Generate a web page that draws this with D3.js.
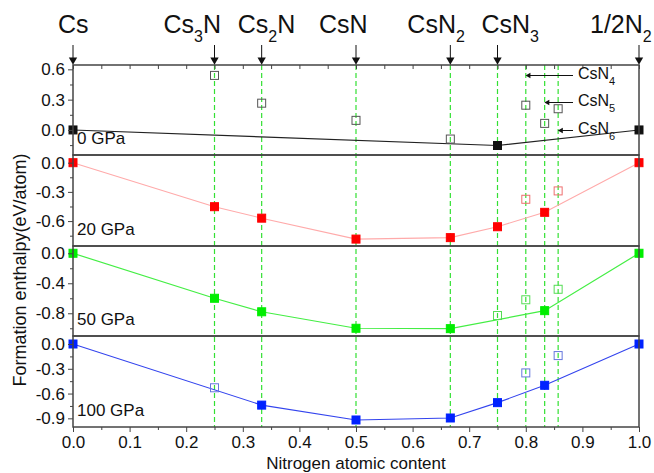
<!DOCTYPE html>
<html>
<head>
<meta charset="utf-8">
<script src="https://cdn.jsdelivr.net/npm/d3@7"></script>
<style>
  body { margin: 0; background: #fff; }
  svg { display: block; font-family: "Liberation Sans", Arial, sans-serif; }
</style>
</head>
<body>
<svg id="chart" width="654" height="473"></svg>
<script>
// ---- data -------------------------------------------------------------
// nitrogen atomic content of every composition considered
const composition = [0, 0.25, 1 / 3, 0.5, 2 / 3, 0.75, 0.8, 5 / 6, 6 / 7, 1];

// formation enthalpy (eV/atom) at each pressure, one value per composition
const enthalpy0GPa   = [0, 0.54, 0.265, 0.095, -0.09, -0.154, 0.245, 0.065, 0.21, 0];
const enthalpy20GPa  = [0, -0.452, -0.57, -0.785, -0.77, -0.658, -0.376, -0.51, -0.29, 0];
const enthalpy50GPa  = [0, -0.6, -0.78, -1.0, -1.005, -0.83, -0.62, -0.765, -0.48, 0];
const enthalpy100GPa = [0, -0.53, -0.74, -0.92, -0.896, -0.71, -0.35, -0.5, -0.14, 0];

// 1 = on the convex hull (filled marker), 0 = above it (open marker)
const onHull0GPa   = [1, 0, 0, 0, 0, 1, 0, 0, 0, 1];
const onHull20GPa  = [1, 1, 1, 1, 1, 1, 0, 1, 0, 1];
const onHull50GPa  = [1, 1, 1, 1, 1, 0, 0, 1, 0, 1];
const onHull100GPa = [1, 0, 1, 1, 1, 1, 0, 1, 0, 1];

const pressureLabels = ["0 GPa", "20 GPa", "50 GPa", "100 GPa"];

// phases marked with arrows above the plot ([text, subscript?] pieces)
const phaseX = [0, 0.25, 1 / 3, 0.5, 2 / 3, 0.75, 1];
const phaseNames = [
  [["Cs", 0]],
  [["Cs", 0], ["3", 1], ["N", 0]],
  [["Cs", 0], ["2", 1], ["N", 0]],
  [["CsN", 0]],
  [["CsN", 0], ["2", 1]],
  [["CsN", 0], ["3", 1]],
  [["1/2N", 0], ["2", 1]]
];

// nitrogen-rich phases annotated inside the 0 GPa panel
const sideX = [0.8, 5 / 6, 6 / 7];
const sideNames = [
  [["CsN", 0], ["4", 1]],
  [["CsN", 0], ["5", 1]],
  [["CsN", 0], ["6", 1]]
];

// composition lines (dashed verticals)
const guideX = [0.25, 1 / 3, 0.5, 2 / 3, 0.75, 0.8, 5 / 6, 6 / 7];

// axis ticks
const xMajorTicks = [0, 0.1, 0.2, 0.3, 0.4, 0.5, 0.6, 0.7, 0.8, 0.9, 1.0];
const xMinorTicks = [0.05, 0.15, 0.25, 0.35, 0.45, 0.55, 0.65, 0.75, 0.85, 0.95];
const yMajor0GPa   = [0, 0.3, 0.6];
const yMinor0GPa   = [-0.15, 0.15, 0.45];
const yMajor20GPa  = [0, -0.3, -0.6];
const yMinor20GPa  = [-0.15, -0.45, -0.75];
const yMajor50GPa  = [0, -0.4, -0.8];
const yMinor50GPa  = [-0.2, -0.6, -1.0];
const yMajor100GPa = [0, -0.3, -0.6, -0.9];
const yMinor100GPa = [-0.15, -0.45, -0.75];

// ---- layout -----------------------------------------------------------
const svg = d3.select("#chart");
const x = d3.scaleLinear().domain([0, 1]).range([73, 639]);

const panels = [
  { values: enthalpy0GPa,   hull: onHull0GPa,   major: yMajor0GPa,   minor: yMinor0GPa,
    top: 65,  bottom: 155, domain: [-0.248, 0.643],
    line: "#222222", fill: "#111111", open: "#555555", lineWidth: 1.1 },
  { values: enthalpy20GPa,  hull: onHull20GPa,  major: yMajor20GPa,  minor: yMinor20GPa,
    top: 155, bottom: 246, domain: [-0.856, 0.079],
    line: "#ffaaaa", fill: "#ff0000", open: "#ee6f6f", lineWidth: 1.1 },
  { values: enthalpy50GPa,  hull: onHull50GPa,  major: yMajor50GPa,  minor: yMinor50GPa,
    top: 246, bottom: 336, domain: [-1.103, 0.097],
    line: "#44ee44", fill: "#00ee00", open: "#55dd55", lineWidth: 1.2 },
  { values: enthalpy100GPa, hull: onHull100GPa, major: yMajor100GPa, minor: yMinor100GPa,
    top: 336, bottom: 427, domain: [-1.005, 0.097],
    line: "#3344ee", fill: "#0022ff", open: "#6677dd", lineWidth: 1.1 }
];

const fmt = v => d3.format(".1f")(v).replace("\u2212", "-");
const frameColor = "#444";

// dashed composition guides through all four panels
svg.append("g").selectAll("line").data(guideX).join("line")
  .attr("x1", d => x(d)).attr("x2", d => x(d))
  .attr("y1", panels[0].top).attr("y2", panels[3].bottom)
  .attr("stroke", "#33e033").attr("stroke-width", 1.2)
  .attr("stroke-dasharray", "5,3");

panels.forEach((p, i) => {
  const y = d3.scaleLinear().domain(p.domain).range([p.bottom, p.top]);
  const g = svg.append("g");

  // hull line through the stable phases
  const hullPts = composition.map((c, k) => [c, p.values[k], p.hull[k]]).filter(d => d[2]);
  g.append("path").datum(hullPts)
    .attr("fill", "none").attr("stroke", p.line).attr("stroke-width", p.lineWidth)
    .attr("d", d3.line().x(d => x(d[0])).y(d => y(d[1])));

  // markers
  const pts = composition.map((c, k) => ({ c, v: p.values[k], s: p.hull[k] }));
  g.selectAll("rect.m").data(pts).join("rect")
    .attr("class", "m")
    .attr("x", d => x(d.c) - 4).attr("y", d => y(d.v) - 4)
    .attr("width", 8).attr("height", 8)
    .attr("fill", d => d.s ? p.fill : "#fff")
    .attr("fill-opacity", d => d.s ? 1 : 0)
    .attr("stroke", d => d.s ? p.fill : p.open)
    .attr("stroke-width", 1);

  // left axis: major + minor ticks
  const yAxis = g.append("g").attr("transform", `translate(${x(0)},0)`)
    .call(d3.axisLeft(y).tickValues(p.major).tickSize(5).tickPadding(3).tickFormat(fmt));
  yAxis.select(".domain").remove();
  yAxis.selectAll("text").attr("font-size", 17).attr("fill", "#111")
    .attr("font-family", '"Liberation Sans", Arial, sans-serif');
  yAxis.selectAll("line").attr("stroke", frameColor);
  const yMinor = g.append("g").attr("transform", `translate(${x(0)},0)`)
    .call(d3.axisLeft(y).tickValues(p.minor).tickSize(3).tickFormat(""));
  yMinor.select(".domain").remove();
  yMinor.selectAll("line").attr("stroke", frameColor);

  // frame
  g.append("rect")
    .attr("x", x(0)).attr("y", p.top)
    .attr("width", x(1) - x(0)).attr("height", p.bottom - p.top)
    .attr("fill", "none").attr("stroke", frameColor).attr("stroke-width", 1.5);

  // pressure label
  g.append("text")
    .attr("x", 77).attr("y", p.bottom - 11)
    .attr("font-size", 17).attr("fill", "#111")
    .text(pressureLabels[i]);
});

// bottom axis
const xAxis = svg.append("g").attr("transform", `translate(0,${panels[3].bottom})`)
  .call(d3.axisBottom(x).tickValues(xMajorTicks).tickSize(5).tickPadding(4).tickFormat(fmt));
xAxis.select(".domain").remove();
xAxis.selectAll("text").attr("font-size", 17).attr("fill", "#111")
  .attr("font-family", '"Liberation Sans", Arial, sans-serif');
xAxis.selectAll("line").attr("stroke", frameColor);
const xMinor = svg.append("g").attr("transform", `translate(0,${panels[3].bottom})`)
  .call(d3.axisBottom(x).tickValues(xMinorTicks).tickSize(3).tickFormat(""));
xMinor.select(".domain").remove();
xMinor.selectAll("line").attr("stroke", frameColor);

// top axis: inward ticks
const xTop = svg.append("g").attr("transform", `translate(0,${panels[0].top})`)
  .call(d3.axisBottom(x).tickValues(xMajorTicks.concat(xMinorTicks)).tickSize(4).tickFormat(""));
xTop.select(".domain").remove();
xTop.selectAll("line").attr("stroke", frameColor);

// axis titles
svg.append("text")
  .attr("x", x(0.5)).attr("y", 469)
  .attr("text-anchor", "middle").attr("font-size", 17).attr("fill", "#111")
  .text("Nitrogen atomic content");
svg.append("text")
  .attr("transform", "translate(26,270) rotate(-90)")
  .attr("text-anchor", "middle").attr("font-size", 18).attr("fill", "#111")
  .text("Formation enthalpy(eV/atom)");

// rich text helper: pieces of [text, isSubscript]
function richText(sel, pieces, bigSize, subSize, subShift) {
  let sub = false;
  pieces.forEach(([t, s]) => {
    const ts = sel.append("tspan").text(t).attr("font-size", s ? subSize : bigSize);
    if (s && !sub) ts.attr("dy", subShift);
    if (!s && sub) ts.attr("dy", -subShift);
    sub = !!s;
  });
}

// phase labels with arrows above the plot
const labelDx = [-15, -51, -24, -37, -43, -16, -49];
const arrowHead = d3.symbol().type(d3.symbolTriangle).size(30);
phaseX.forEach((px, i) => {
  const t = svg.append("text")
    .attr("x", x(px) + labelDx[i]).attr("y", 33).attr("fill", "#111");
  richText(t, phaseNames[i], 25, 16, 9);
  svg.append("line")
    .attr("x1", x(px)).attr("x2", x(px)).attr("y1", 45).attr("y2", 58)
    .attr("stroke", "#111").attr("stroke-width", 1);
  svg.append("path")
    .attr("d", arrowHead)
    .attr("transform", `translate(${x(px)},${60}) rotate(180)`)
    .attr("fill", "#111");
});

// CsN4 / CsN5 / CsN6 annotations
const sideY = [75.5, 102.5, 130.5];
const arrowLeft = d3.symbol().type(d3.symbolTriangle).size(14);
sideX.forEach((sx, i) => {
  svg.append("line")
    .attr("x1", 573).attr("x2", x(sx) + 3)
    .attr("y1", sideY[i]).attr("y2", sideY[i])
    .attr("stroke", "#111").attr("stroke-width", 1);
  svg.append("path")
    .attr("d", arrowLeft)
    .attr("transform", `translate(${x(sx) + 3},${sideY[i]}) rotate(-90)`)
    .attr("fill", "#111");
  const t = svg.append("text")
    .attr("x", 578).attr("y", sideY[i] + 3.5).attr("fill", "#111");
  richText(t, sideNames[i], 16, 11, 6);
});
</script>
</body>
</html>
